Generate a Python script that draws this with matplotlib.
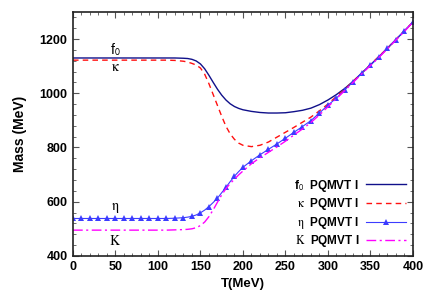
import matplotlib
matplotlib.use('Agg')
import matplotlib.pyplot as plt
from matplotlib.ticker import MultipleLocator

plt.rcParams['font.family'] = ['Liberation Sans', 'DejaVu Sans']
plt.rcParams['mathtext.fontset'] = 'stix'

# ─── Datos ───────────────────────────────────────────────────────────────────
# T con paso fino en la zona de transicion
T = [0, 10, 20, 30, 40, 50, 60, 70, 80, 90, 100, 110, 120, 130, 135, 140,
     145, 150, 155, 160, 165, 170, 175, 180, 185, 190, 195, 200, 210, 220,
     230, 240, 250, 260, 270, 280, 290, 300, 310, 320, 330, 340, 350, 360,
     370, 380, 390, 400]

f0 = [1130, 1130, 1130, 1130, 1130, 1130, 1130, 1130, 1130, 1130, 1130, 1130,
      1130, 1129, 1128, 1125, 1119, 1108, 1090, 1066, 1040, 1015, 993, 975,
      961, 951, 944, 939, 933, 929, 927, 927, 928, 932, 937, 945, 958, 975,
      995, 1018, 1045, 1075, 1105, 1134, 1166, 1198, 1230, 1262]
kappa = [1122, 1122, 1122, 1122, 1122, 1122, 1122, 1122, 1122, 1122, 1122,
         1122, 1121, 1118, 1115, 1110, 1104, 1093, 1070, 1035, 995, 955, 915,
         878, 850, 830, 816, 808, 803, 808, 820, 838, 856, 874, 893, 912, 935,
         960, 988, 1015, 1045, 1075, 1105, 1136, 1166, 1198, 1230, 1262]
eta = [538, 538, 538, 538, 538, 538, 538, 538, 538, 538, 538, 538, 539, 541,
       543, 546, 551, 559, 569, 582, 597, 613, 633, 653, 674, 694, 711, 727,
       751, 773, 793, 813, 834, 856, 877, 899, 927, 956, 982, 1013, 1043,
       1075, 1103, 1134, 1166, 1198, 1230, 1262]
kaon = [495, 495, 495, 495, 495, 495, 495, 495, 495, 495, 495, 495, 496, 497,
        498, 500, 504, 512, 525, 545, 570, 598, 625, 648, 667, 683, 699, 713,
        740, 762, 782, 802, 823, 846, 868, 892, 920, 950, 980, 1010, 1041,
        1072, 1102, 1132, 1164, 1196, 1228, 1262]

# marcadores de eta cada 10 MeV
ETA_MARK = [i for i, t in enumerate(T) if t % 10 == 0]

SYMS = [r"f$_{\mathsf{0}}$", r"$\mathrm{\kappa}$", r"$\mathrm{\eta}$", r"$\mathrm{K}$"]
LABELS = [s + "  PQMVT I" for s in SYMS]

# ─── Figura ──────────────────────────────────────────────────────────────────
fig = plt.figure(figsize=(4.36, 3.05), dpi=100, facecolor='white')
ax = fig.add_axes([0.1674, 0.161, 0.7796, 0.800])

ax.plot(T, f0, color='#10108a', lw=1.0, label=LABELS[0])
ax.plot(T, kappa, color='#ff1010', lw=1.0, ls=(0, (4, 3)), label=LABELS[1])
ax.plot(T, eta, color='#3c3cff', lw=0.8, marker='^', ms=3.8,
        markeredgewidth=0, markevery=ETA_MARK, label=LABELS[2])
ax.plot(T, kaon, color='#ff00ff', lw=1.0, ls=(0, (7, 2.5, 1.5, 2.5)), label=LABELS[3])

ax.set_xlim(0, 400)
ax.set_ylim(400, 1300)
ax.xaxis.set_major_locator(MultipleLocator(50))
ax.xaxis.set_minor_locator(MultipleLocator(10))
ax.yaxis.set_major_locator(MultipleLocator(200))
ax.yaxis.set_minor_locator(MultipleLocator(40))
ax.tick_params(which='both', direction='in', top=True, right=True,
               labelsize=9, color='#555555')
ax.tick_params(which='major', length=4, pad=4)
ax.tick_params(which='minor', length=2)
for lbl in ax.get_xticklabels() + ax.get_yticklabels():
    lbl.set_fontweight('bold')
for sp in ax.spines.values():
    sp.set_linewidth(1.2)
    sp.set_color('#222222')

ax.set_xlabel("T(MeV)", fontsize=9.5, fontweight='bold', labelpad=3)
ax.set_ylabel("Mass (MeV)", fontsize=10, fontweight='bold', labelpad=9)

# ── Etiquetas en las curvas ──────────────────────────────────────────────────
for s, yv in zip(SYMS, [1162, 1098, 578, 455]):
    ax.text(50, yv, s, fontsize=10, ha='center', va='center')

leg = ax.legend(loc='lower right', bbox_to_anchor=(1.0, 0.0), frameon=False,
                markerfirst=False, fontsize=8.5, handlelength=3.4,
                handletextpad=0.6, labelspacing=0.22, borderaxespad=0.15)
for txt in leg.get_texts():
    txt.set_fontweight('bold')

plt.savefig('out.png', dpi=100, facecolor='white')
